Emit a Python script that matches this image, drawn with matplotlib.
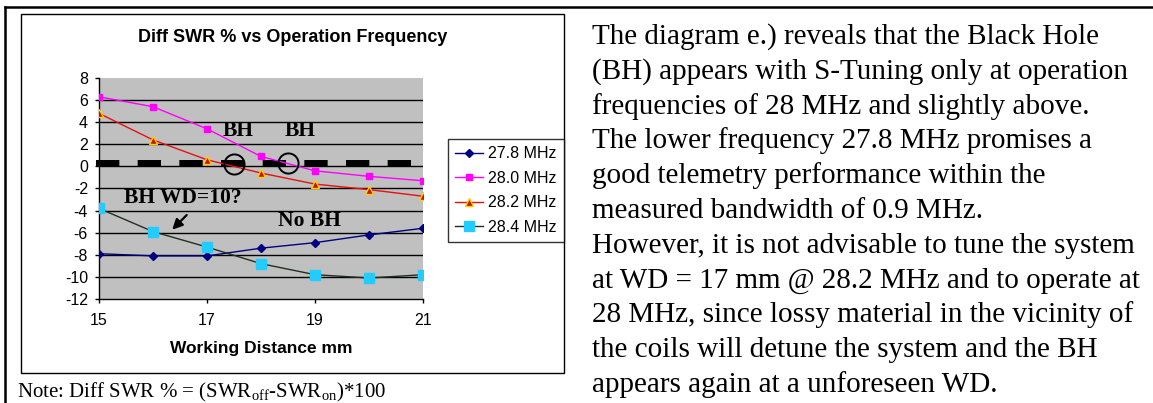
"""
Diff SWR % vs operation frequency chart, with the note and the
explanatory paragraph next to it.
"""
import matplotlib
matplotlib.use('Agg')
import matplotlib.pyplot as plt
from matplotlib.lines import Line2D
from matplotlib.patches import Rectangle

# --- Data ---
working_distance = [15, 16, 17, 18, 19, 20, 21]
swr_27_8 = [-7.9, -8.1, -8.1, -7.4, -6.9, -6.2, -5.6]
swr_28_0 = [6.3, 5.4, 3.4, 0.9, -0.4, -0.9, -1.3]
swr_28_2 = [4.8, 2.4, 0.6, -0.6, -1.6, -2.1, -2.7]
swr_28_4 = [-3.8, -5.9, -7.3, -8.8, -9.8, -10.1, -9.8]
series_labels = ['27.8 MHz', '28.0 MHz', '28.2 MHz', '28.4 MHz']

x_ticks = [15, 17, 19, 21]
y_ticks = [-12, -10, -8, -6, -4, -2, 0, 2, 4, 6, 8]

# black hole marks drawn on the chart
bh_line_x = [14.95, 20.77]
bh_line_y = [0.3, 0.3]
bh_circle_x = [17.5, 18.5]
bh_circle_y = [0.25, 0.3]

annotations = [
    ('BH', 17.57, 3.2),
    ('BH', 18.72, 3.2),
    ('BH WD=10?', 16.55, -2.86),
    ('No BH', 18.89, -4.92),
]
arrow_tail = (16.66, -4.22)
arrow_head = (16.32, -5.9)

note_text = r"Note: Diff SWR % = (SWR$_{\mathrm{off}}$-SWR$_{\mathrm{on}}$)*100"

paragraph = [
    "The diagram e.) reveals that the Black Hole",
    "(BH) appears with S-Tuning only at operation",
    "frequencies of 28 MHz and slightly above.",
    "The lower frequency 27.8 MHz promises a",
    "good telemetry performance within the",
    "measured bandwidth of 0.9 MHz.",
    "However, it is not advisable to tune the system",
    "at WD = 17 mm @ 28.2 MHz and to operate at",
    "28 MHz, since lossy material in the vicinity of",
    "the coils will detune the system and the BH",
    "appears again at a unforeseen WD.",
]

plt.rcParams['font.family'] = ['Liberation Sans', 'DejaVu Sans']
plt.rcParams['axes.unicode_minus'] = False
plt.rcParams['lines.scale_dashes'] = False
plt.rcParams['mathtext.fontset'] = 'custom'
plt.rcParams['mathtext.rm'] = 'Liberation Serif'

W, H = 1153, 403
fig = plt.figure(figsize=(W / 100, H / 100), dpi=100)

# --- Page frame and chart frame ---
fig.add_artist(Line2D([5 / W, 1], [1 - 7 / H] * 2, color='black', lw=1.8))
fig.add_artist(Line2D([5 / W] * 2, [0, 1 - 7 / H], color='black', lw=1.8))
fig.add_artist(Rectangle((21 / W, 1 - 373 / H), 543 / W, 359 / H,
                         fill=False, edgecolor='black', lw=1.0))

# --- Plot area ---
ax = fig.add_axes([99 / W, 1 - 299 / H, 324 / W, 221 / H])
ax.set_facecolor('#c0c0c0')

ax.plot(working_distance, swr_27_8, color='#000080', lw=1.0, marker='D',
        ms=4, mfc='#000080', mec='#000080', label=series_labels[0], zorder=4)
ax.plot(working_distance, swr_28_0, color='#ff00ff', lw=1.0, marker='s',
        ms=5, mfc='#ff00ff', mec='#ff00ff', label=series_labels[1], zorder=4)
ax.plot(working_distance, swr_28_2, color='#e8100c', lw=1.0, marker='^',
        ms=6, mfc='#cc1100', mec='#ffd000', mew=1.0, label=series_labels[2], zorder=4)
ax.plot(working_distance, swr_28_4, color='#203020', lw=1.0, marker='s',
        ms=7.5, mfc='#22ccff', mec='#22ccff', label=series_labels[3], zorder=4)

# dashed zero line and the circles around the black holes
ax.plot(bh_line_x, bh_line_y, color='black', lw=4.3, dashes=(16.8, 13.2),
        solid_capstyle='butt', dash_capstyle='butt', clip_on=False, zorder=3)
ax.plot(bh_circle_x, bh_circle_y, linestyle='none', marker='o', ms=14.5,
        mfc='none', mec='black', mew=1.4, zorder=5)

for label, x, y in annotations:
    ax.text(x, y, label, family='Liberation Serif', fontweight='bold',
            fontsize=15.5, ha='center', va='center', zorder=6)
ax.annotate('', xy=arrow_head, xytext=arrow_tail,
            arrowprops=dict(arrowstyle='-|>', color='black', lw=1.6,
                            mutation_scale=15), zorder=6)

ax.set_xlim(15, 21)
ax.set_ylim(-12, 8)
ax.set_xticks(x_ticks)
ax.set_yticks(y_ticks)
ax.tick_params(axis='both', direction='out', length=3, width=1,
               labelsize=11.5, colors='black')
ax.tick_params(axis='y', pad=5)
ax.tick_params(axis='x', pad=7)
ax.yaxis.grid(True, color='black', lw=1.0)
ax.set_axisbelow(True)
ax.spines['top'].set_visible(False)
ax.spines['right'].set_visible(False)
for side in ['left', 'bottom']:
    ax.spines[side].set_linewidth(1.0)
fig.canvas.draw()
ax.yaxis.get_gridlines()[-1].set_visible(False)
ax.yaxis.get_gridlines()[0].set_visible(False)

# --- Titles ---
fig.text(292.5 / W, 1 - 38 / H, 'Diff SWR % vs Operation Frequency',
         fontsize=13, fontweight='bold', ha='center', va='center')
fig.text(261 / W, 1 - 349 / H, 'Working Distance mm',
         fontsize=12.5, fontweight='bold', ha='center', va='center')

# --- Legend ---
leg = fig.legend(loc='upper right', bbox_to_anchor=(564 / W, 1 - 139 / H),
                 bbox_transform=fig.transFigure, fontsize=11.5, frameon=True,
                 fancybox=False, borderaxespad=0, handlelength=1.75,
                 handletextpad=0.35, labelspacing=0.6, borderpad=0.45)
leg.get_frame().set_edgecolor('black')
leg.get_frame().set_linewidth(1.0)

# --- Note and paragraph ---
fig.text(17 / W, 1 - 397 / H, note_text, family='Liberation Serif',
         fontsize=15, ha='left', va='baseline')
for i, line in enumerate(paragraph):
    fig.text(592 / W, 1 - (44 + 34.8 * i) / H, line, family='Liberation Serif',
             fontsize=21, ha='left', va='baseline')

fig.savefig('out.png', dpi=100)
